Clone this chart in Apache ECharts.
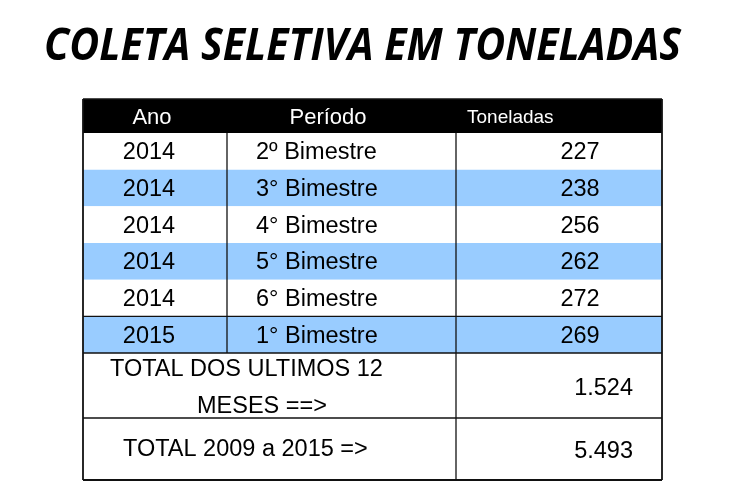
<!DOCTYPE html>
<html>
<head>
<meta charset="utf-8">
<script src="https://cdn.jsdelivr.net/npm/echarts@6/dist/echarts.min.js"></script>
<style>
	html, body { margin: 0; padding: 0; background: #fff; }
	#chart { width: 750px; height: 500px; }
</style>
</head>
<body>
<div id="chart"></div>

<script>
	// dados da tabela
	const titulo = 'COLETA SELETIVA EM TONELADAS';
	const cabecalho = ['Ano', 'Período', 'Toneladas'];
	const anos = ['2014', '2014', '2014', '2014', '2014', '2015'];
	const periodos = ['2º Bimestre', '3° Bimestre', '4° Bimestre', '5° Bimestre', '6° Bimestre', '1° Bimestre'];
	const toneladas = [227, 238, 256, 262, 272, 269];
	const totaisRotulos = [['TOTAL DOS ULTIMOS 12', 'MESES ==>'], ['TOTAL 2009 a 2015 =>']];
	const totaisValores = ['1.524', '5.493'];

	// layout (unidades do eixo = pixels da tabela)
	const W = 579, H = 381;
	const headerH = 34;
	const rowH = (254 - headerH) / anos.length;
	const totalTop = [254, 319];
	const azul = '#99ccff';
	const fonte = '"Liberation Sans", Arial, sans-serif';
	const dy = 1.5;

	function rowMid(i) { return headerH + rowH * (i + 0.5) + dy; }

	// fundos: [y0, y1, cor]
	const fundos = [[0, headerH, 0]];
	anos.forEach(function (a, i) {
		fundos.push([headerH + rowH * i, headerH + rowH * (i + 1), i % 2 ? 2 : 1]);
	});
	const coresFundo = ['#000000', '#ffffff', azul];

	// textos
	const textos = [];
	textos.push({ t: cabecalho[0], x: 69, y: 19, a: 'center', s: 22, c: '#fff' });
	textos.push({ t: cabecalho[1], x: 245, y: 19, a: 'center', s: 22, c: '#fff' });
	textos.push({ t: cabecalho[2], x: 384, y: 18.5, a: 'left', s: 19, c: '#fff' });
	anos.forEach(function (a, i) {
		textos.push({ t: a, x: 66, y: rowMid(i), a: 'center', s: 23.5, c: '#000' });
		textos.push({ t: periodos[i], x: 173, y: rowMid(i), a: 'left', s: 23.5, c: '#000' });
		textos.push({ t: String(toneladas[i]), x: 497, y: rowMid(i), a: 'center', s: 23.5, c: '#000' });
	});
	textos.push({ t: totaisRotulos[0][0], x: 27, y: 269 + dy, a: 'left', s: 23.5, c: '#000' });
	textos.push({ t: totaisRotulos[0][1], x: 114, y: 306 + dy, a: 'left', s: 23.5, c: '#000' });
	textos.push({ t: totaisRotulos[1][0], x: 40, y: 349.5 + dy, a: 'left', s: 23.5, c: '#000' });
	textos.push({ t: totaisValores[0], x: 550, y: 288.5 + dy, a: 'right', s: 23.5, c: '#000' });
	textos.push({ t: totaisValores[1], x: 550, y: 351 + dy, a: 'right', s: 23.5, c: '#000' });

	// linhas: [x0, y0, x1, y1, espessura]
	const linhas = [
		[144, headerH, 144, 254, 1.3],
		[373, headerH, 373, H, 1.3],
		[0, headerH + rowH * 5, W, headerH + rowH * 5, 1.3],
		[0, totalTop[0], W, totalTop[0], 1.3],
		[0, totalTop[1], W, totalTop[1], 1.3],
		[0, 0, W, 0, 1.5],
		[0, H, W, H, 1.8],
		[0, 0, 0, H, 1.8],
		[W, 0, W, H, 1.8]
	];

	// escala horizontal do titulo
	const cnv = document.createElement('canvas').getContext('2d');
	cnv.font = 'italic bold 45px "Open Sans"';
	const escalaTitulo = 637 / cnv.measureText(titulo).width;

	var chart = echarts.init(document.getElementById('chart'));

	var option = {
		animation: false,
		grid: { left: 83, top: 99, width: W, height: H },
		xAxis: { type: 'value', min: 0, max: W, show: false },
		yAxis: { type: 'value', min: 0, max: H, inverse: true, show: false },
		graphic: [{
			type: 'text',
			x: 44,
			y: 47,
			scaleX: escalaTitulo,
			style: {
				text: titulo,
				font: 'italic bold 45px "Open Sans"',
				fill: '#000',
				textAlign: 'left',
				textVerticalAlign: 'middle'
			}
		}],
		series: [{
			type: 'custom',
			clip: false,
			data: fundos,
			renderItem: function (params, api) {
				var p0 = api.coord([0, api.value(0)]);
				var p1 = api.coord([W, api.value(1)]);
				return {
					type: 'rect',
					shape: { x: p0[0], y: p0[1], width: p1[0] - p0[0], height: p1[1] - p0[1] },
					style: { fill: coresFundo[api.value(2)] }
				};
			}
		}, {
			type: 'custom',
			clip: false,
			data: linhas,
			renderItem: function (params, api) {
				var p0 = api.coord([api.value(0), api.value(1)]);
				var p1 = api.coord([api.value(2), api.value(3)]);
				return {
					type: 'line',
					shape: { x1: p0[0], y1: p0[1], x2: p1[0], y2: p1[1] },
					style: { stroke: '#111', lineWidth: api.value(4) }
				};
			}
		}, {
			type: 'custom',
			clip: false,
			data: textos.map(function (d) { return [d.x, d.y]; }),
			renderItem: function (params, api) {
				var d = textos[params.dataIndex];
				var p = api.coord([api.value(0), api.value(1)]);
				return {
					type: 'text',
					x: p[0],
					y: p[1],
					style: {
						text: d.t,
						font: d.s + 'px ' + fonte,
						fill: d.c,
						textAlign: d.a,
						textVerticalAlign: 'middle'
					}
				};
			}
		}]
	};

	chart.setOption(option);
</script>
</body>
</html>
